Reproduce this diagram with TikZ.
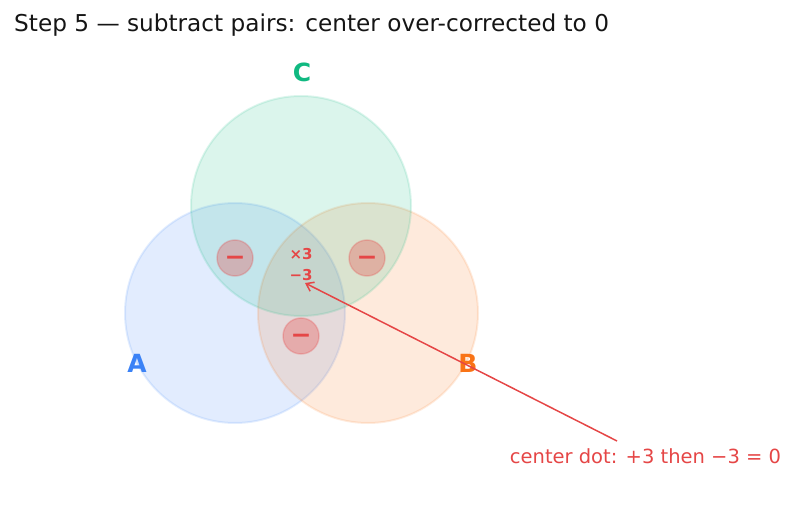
\documentclass[tikz,border=0pt]{standalone}
\usepackage{fontspec}
\setmainfont{DejaVu Sans}
\usetikzlibrary{arrows.meta}
\definecolor{cA}{HTML}{3B82F6}
\definecolor{cB}{HTML}{F97316}
\definecolor{cC}{HTML}{10B981}
\definecolor{cR}{HTML}{E54646}
\definecolor{ttl}{HTML}{151515}
\tikzset{
  setc/.style={circle, minimum size=220pt, inner sep=0pt, line width=2pt, fill=#1, draw=#1, fill opacity=0.15, draw opacity=0.14},
  lab/.style={anchor=base, inner sep=0pt, text=#1, font=\fontsize{25}{30}\selectfont\bfseries},
  minusdot/.style={circle, minimum size=36pt, inner sep=0pt, line width=1.5pt, fill=cR, draw=cR, fill opacity=0.32, draw opacity=0.25},
  minustxt/.style={anchor=base, inner sep=0pt, text=cR, font=\fontsize{25}{30}\selectfont\bfseries},
  ctr/.style={anchor=base, inner sep=0pt, text=cR, font=\fontsize{15}{18}\selectfont\bfseries},
}
\begin{document}
\begin{tikzpicture}[x=1pt, y=-1pt]
\useasboundingbox (0,0) rectangle (794,510);
\node[anchor=base west, inner sep=0pt, text=ttl, font=\fontsize{23.2}{28}\selectfont] (title) at (14,32) {Step 5 — subtract pairs: center over-corrected to 0};
% sets
\node[setc=cA] (A) at (235,313) {};
\node[setc=cB] (B) at (368,313) {};
\node[setc=cC] (C) at (301,206) {};
% set labels
\node[lab=cA] (labA) at (137,372) {A};
\node[lab=cB] (labB) at (468,372) {B};
\node[lab=cC] (labC) at (302,82) {C};
% pair overlap markers
\node[minusdot] (dAC) at (235,258) {};
\node[minusdot] (dBC) at (367,258) {};
\node[minusdot] (dAB) at (301,336) {};
\node[minustxt] (mAC) at (235,265.5) {−};
\node[minustxt] (mBC) at (367,265.5) {−};
\node[minustxt] (mAB) at (301,343.5) {−};
% center text
\node[ctr] (x3) at (301,259.5) {×3};
\node[ctr] (m3) at (301,280) {−3};
% annotation
\node[anchor=base, inner sep=0pt, text=cR, font=\fontsize{19.5}{23}\selectfont] (note) at (645.5,463) {center dot: +3 then −3 = 0};
\coordinate (tail) at (617,441);
\coordinate (tip) at (305,283);
\draw[cR, line width=1.5pt, -{Straight Barb[length=7pt, width=10pt]}] (tail) -- (tip);
\end{tikzpicture}
\end{document}
